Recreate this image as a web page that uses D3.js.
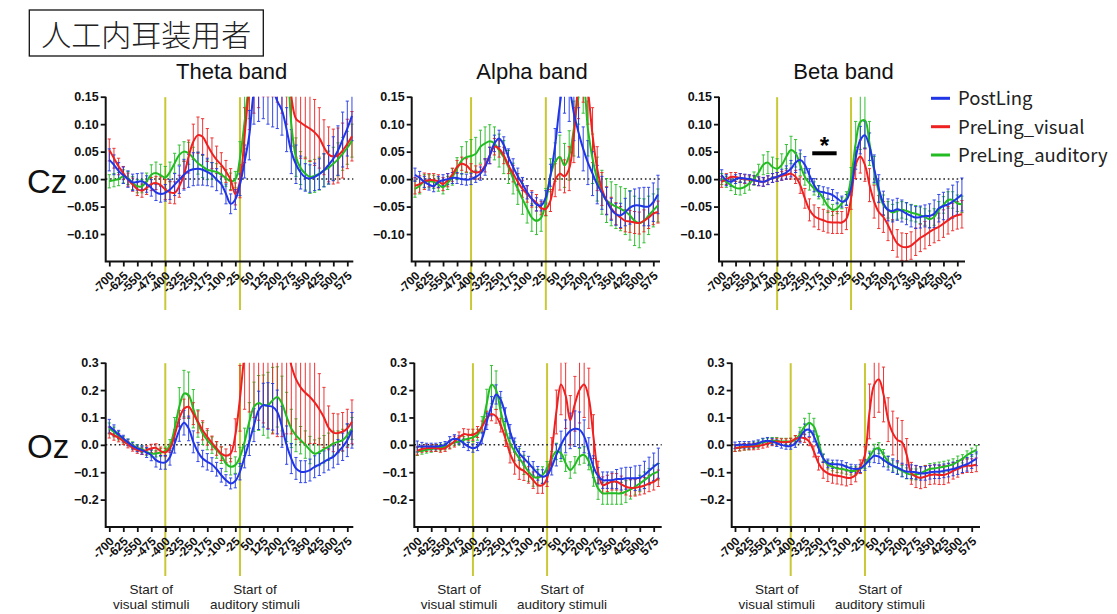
<!DOCTYPE html>
<html><head><meta charset="utf-8">
<script src="https://cdn.jsdelivr.net/npm/d3@7"></script>
<style>body{margin:0;background:#fff}svg{display:block}</style>
</head><body>
<svg id="c" width="1117" height="614"></svg>
<script>
// ---------- data ----------
const times = [-700,-675,-650,-625,-600,-575,-550,-525,-500,-475,-450,-425,-400,-375,-350,-325,-300,-275,-250,-225,-200,-175,-150,-125,-100,-75,-50,-25,0,25,50,75,100,125,150,175,200,225,250,275,300,325,350,375,400,425,450,475,500,525,550,575,600];
const xTickLabels = [-700,-625,-550,-475,-400,-325,-250,-175,-100,-25,50,125,200,275,350,425,500,575];
const czTicks = [-0.10,-0.05,0.00,0.05,0.10,0.15];
const ozTicks = [-0.2,-0.1,0.0,0.1,0.2,0.3];
const groups = ["PostLing","PreLing_visual","PreLing_auditory"];
const bands = ["Theta band","Alpha band","Beta band"];
const sites = ["Cz","Oz"];
const stimulusMarks = [-400, 0];

const czThetaPost = [0.035,0.026,0.015,0.007,0.0,-0.006,-0.005,-0.004,-0.009,-0.016,-0.024,-0.027,-0.025,-0.019,-0.01,-0.001,0.008,0.015,0.018,0.019,0.017,0.013,0.008,-0.001,-0.009,-0.027,-0.045,-0.037,-0.01,0.032,0.08,0.16,0.19,0.2,0.19,0.165,0.142,0.125,0.09,0.05,0.027,0.012,0.003,0.001,0.004,0.009,0.016,0.026,0.037,0.052,0.072,0.092,0.115];
const czThetaPostErr = [0.02,0.018,0.015,0.015,0.015,0.015,0.015,0.015,0.015,0.015,0.015,0.015,0.015,0.018,0.02,0.025,0.028,0.03,0.03,0.03,0.028,0.025,0.022,0.02,0.018,0.018,0.018,0.018,0.02,0.03,0.045,0.06,0.085,0.09,0.09,0.07,0.05,0.045,0.04,0.04,0.035,0.03,0.025,0.025,0.025,0.028,0.03,0.035,0.04,0.045,0.05,0.05,0.045];
const czThetaVis = [0.053,0.038,0.023,0.011,-0.001,-0.01,-0.018,-0.021,-0.016,-0.009,-0.007,-0.011,-0.019,-0.024,-0.025,-0.013,0.008,0.041,0.068,0.08,0.077,0.062,0.047,0.035,0.026,0.014,-0.001,-0.027,-0.004,0.08,0.17,0.24,0.28,0.3,0.3,0.3,0.29,0.27,0.22,0.15,0.11,0.103,0.097,0.092,0.085,0.075,0.058,0.045,0.041,0.043,0.052,0.064,0.078];
const czThetaVisErr = [0.02,0.018,0.015,0.012,0.012,0.012,0.012,0.012,0.012,0.012,0.012,0.015,0.018,0.02,0.02,0.02,0.025,0.03,0.032,0.033,0.033,0.03,0.028,0.025,0.022,0.02,0.02,0.02,0.03,0.05,0.08,0.12,0.15,0.15,0.15,0.15,0.15,0.15,0.12,0.09,0.07,0.065,0.06,0.06,0.06,0.055,0.05,0.05,0.05,0.05,0.05,0.045,0.045];
const czThetaAud = [-0.004,-0.002,0.0,0.005,0.002,-0.007,-0.013,-0.013,-0.004,0.008,0.011,0.007,0.003,0.013,0.029,0.044,0.05,0.047,0.038,0.029,0.023,0.017,0.015,0.013,0.008,0.002,-0.004,-0.001,0.038,0.105,0.18,0.24,0.27,0.28,0.28,0.28,0.27,0.25,0.22,0.1,0.04,0.02,0.01,0.004,0.006,0.01,0.016,0.021,0.028,0.036,0.046,0.057,0.07];
const czThetaAudErr = [0.012,0.012,0.012,0.012,0.012,0.012,0.012,0.012,0.015,0.018,0.02,0.02,0.02,0.018,0.018,0.018,0.018,0.02,0.02,0.02,0.02,0.018,0.015,0.015,0.015,0.015,0.015,0.015,0.03,0.05,0.07,0.08,0.08,0.08,0.08,0.08,0.08,0.08,0.07,0.05,0.035,0.03,0.03,0.03,0.03,0.03,0.03,0.03,0.03,0.03,0.03,0.03,0.03];

const czAlphaPost = [0.008,0.002,-0.005,-0.01,-0.013,-0.005,-0.002,0.0,0.002,0.002,0.0,-0.001,0.0,0.004,0.01,0.022,0.043,0.065,0.074,0.062,0.04,0.022,0.005,-0.009,-0.024,-0.036,-0.046,-0.048,-0.033,0.007,0.062,0.135,0.18,0.165,0.12,0.085,0.055,0.03,0.01,-0.01,-0.025,-0.04,-0.055,-0.064,-0.066,-0.06,-0.052,-0.048,-0.048,-0.05,-0.05,-0.042,-0.028];
const czAlphaPostErr = [0.012,0.012,0.01,0.01,0.01,0.01,0.01,0.01,0.01,0.01,0.01,0.01,0.01,0.01,0.012,0.015,0.015,0.015,0.015,0.015,0.015,0.015,0.015,0.012,0.012,0.012,0.012,0.01,0.012,0.02,0.03,0.05,0.06,0.06,0.05,0.045,0.04,0.04,0.04,0.035,0.03,0.025,0.02,0.02,0.022,0.025,0.03,0.03,0.032,0.035,0.035,0.035,0.035];
const czAlphaVis = [-0.012,-0.009,-0.004,-0.002,-0.002,-0.004,-0.009,-0.002,0.008,0.022,0.028,0.025,0.016,0.012,0.014,0.025,0.043,0.059,0.055,0.043,0.025,0.01,-0.005,-0.018,-0.027,-0.036,-0.043,-0.053,-0.054,-0.039,-0.002,0.01,0.005,0.019,0.08,0.17,0.2,0.16,0.08,0.019,-0.018,-0.039,-0.053,-0.063,-0.07,-0.076,-0.077,-0.079,-0.08,-0.076,-0.07,-0.063,-0.06];
const czAlphaVisErr = [0.015,0.015,0.015,0.012,0.012,0.012,0.012,0.012,0.012,0.012,0.012,0.012,0.012,0.012,0.012,0.012,0.015,0.015,0.015,0.015,0.015,0.015,0.015,0.015,0.015,0.015,0.015,0.012,0.012,0.02,0.03,0.03,0.03,0.04,0.05,0.06,0.06,0.06,0.05,0.04,0.03,0.025,0.02,0.02,0.02,0.02,0.02,0.02,0.02,0.02,0.02,0.02,0.02];
const czAlphaAud = [-0.018,-0.012,-0.004,-0.004,-0.005,-0.01,-0.015,-0.007,0.004,0.019,0.034,0.04,0.042,0.046,0.059,0.065,0.069,0.065,0.052,0.04,0.022,0.001,-0.018,-0.036,-0.054,-0.07,-0.076,-0.07,-0.042,0.007,0.031,0.04,0.025,0.043,0.092,0.15,0.17,0.092,0.037,0.0,-0.024,-0.039,-0.045,-0.05,-0.054,-0.059,-0.066,-0.076,-0.08,-0.076,-0.066,-0.057,-0.048];
const czAlphaAudErr = [0.015,0.015,0.012,0.012,0.012,0.012,0.012,0.012,0.015,0.02,0.025,0.028,0.03,0.03,0.03,0.03,0.03,0.03,0.03,0.03,0.03,0.028,0.028,0.028,0.026,0.025,0.025,0.025,0.025,0.03,0.035,0.04,0.04,0.045,0.05,0.05,0.05,0.05,0.045,0.04,0.04,0.04,0.04,0.04,0.04,0.042,0.045,0.045,0.045,0.04,0.035,0.03,0.03];

const czBetaPost = [0.007,-0.002,-0.005,0.0,0.002,0.001,0.0,-0.002,-0.004,-0.005,-0.002,0.002,0.004,0.008,0.012,0.019,0.03,0.035,0.026,0.007,-0.011,-0.022,-0.024,-0.026,-0.029,-0.035,-0.041,-0.038,-0.017,0.038,0.071,0.08,0.059,0.019,-0.017,-0.044,-0.056,-0.058,-0.055,-0.058,-0.063,-0.067,-0.07,-0.069,-0.067,-0.067,-0.063,-0.053,-0.049,-0.046,-0.041,-0.035,-0.028];
const czBetaPostErr = [0.01,0.01,0.008,0.008,0.008,0.008,0.008,0.008,0.008,0.008,0.008,0.008,0.008,0.01,0.012,0.015,0.018,0.018,0.015,0.012,0.012,0.01,0.01,0.01,0.01,0.01,0.01,0.01,0.012,0.02,0.025,0.025,0.025,0.025,0.025,0.022,0.02,0.02,0.02,0.02,0.02,0.02,0.02,0.02,0.02,0.022,0.025,0.025,0.025,0.028,0.03,0.03,0.03];
const czBetaVis = [-0.005,0.0,0.004,0.004,0.002,0.0,-0.001,-0.002,-0.004,-0.005,-0.002,0.002,0.004,0.006,0.008,0.01,0.004,-0.011,-0.035,-0.056,-0.067,-0.072,-0.075,-0.078,-0.079,-0.079,-0.079,-0.072,-0.035,0.026,0.041,0.026,-0.011,-0.041,-0.06,-0.069,-0.084,-0.102,-0.117,-0.123,-0.124,-0.121,-0.114,-0.107,-0.102,-0.096,-0.091,-0.087,-0.081,-0.075,-0.069,-0.066,-0.064];
const czBetaVisErr = [0.01,0.01,0.008,0.008,0.008,0.008,0.008,0.008,0.008,0.008,0.008,0.008,0.008,0.008,0.008,0.01,0.012,0.015,0.018,0.02,0.02,0.02,0.02,0.02,0.02,0.02,0.02,0.02,0.02,0.025,0.03,0.03,0.03,0.03,0.03,0.028,0.028,0.028,0.025,0.025,0.025,0.025,0.025,0.025,0.025,0.025,0.025,0.025,0.025,0.025,0.025,0.025,0.025];
const czBetaAud = [0.0,-0.005,-0.011,-0.016,-0.017,-0.014,-0.008,0.001,0.012,0.026,0.03,0.022,0.019,0.026,0.041,0.053,0.047,0.026,0.004,-0.008,-0.017,-0.024,-0.035,-0.049,-0.056,-0.053,-0.044,-0.035,0.001,0.065,0.104,0.107,0.065,0.016,-0.023,-0.047,-0.056,-0.061,-0.058,-0.056,-0.058,-0.061,-0.063,-0.066,-0.069,-0.073,-0.069,-0.056,-0.047,-0.038,-0.038,-0.044,-0.046];
const czBetaAudErr = [0.01,0.01,0.01,0.012,0.012,0.012,0.012,0.012,0.015,0.018,0.02,0.018,0.018,0.02,0.022,0.025,0.025,0.02,0.015,0.012,0.012,0.012,0.012,0.012,0.01,0.01,0.01,0.012,0.02,0.04,0.05,0.05,0.04,0.025,0.02,0.018,0.015,0.015,0.015,0.015,0.015,0.015,0.015,0.015,0.015,0.015,0.015,0.015,0.015,0.015,0.015,0.015,0.015];

const ozThetaPost = [0.068,0.053,0.038,0.023,0.009,-0.004,-0.013,-0.019,-0.028,-0.038,-0.056,-0.064,-0.064,-0.044,0.005,0.053,0.081,0.06,0.011,-0.026,-0.05,-0.062,-0.072,-0.089,-0.111,-0.129,-0.141,-0.132,-0.098,-0.044,0.011,0.072,0.126,0.145,0.142,0.139,0.12,0.066,-0.001,-0.05,-0.086,-0.098,-0.098,-0.092,-0.08,-0.072,-0.062,-0.052,-0.044,-0.026,-0.007,0.017,0.053];
const ozThetaPostErr = [0.025,0.02,0.015,0.012,0.012,0.012,0.012,0.015,0.018,0.02,0.025,0.025,0.025,0.03,0.035,0.04,0.045,0.045,0.04,0.035,0.03,0.03,0.025,0.025,0.025,0.02,0.02,0.025,0.03,0.04,0.05,0.06,0.07,0.08,0.085,0.085,0.08,0.075,0.07,0.055,0.04,0.04,0.04,0.04,0.04,0.04,0.04,0.04,0.04,0.045,0.05,0.06,0.065];
const ozThetaVis = [0.045,0.035,0.026,0.013,0.001,-0.011,-0.019,-0.023,-0.019,-0.013,-0.011,-0.023,-0.028,-0.013,0.035,0.096,0.132,0.139,0.114,0.084,0.053,0.029,0.007,-0.013,-0.032,-0.04,-0.032,0.035,0.17,0.33,0.42,0.45,0.47,0.48,0.48,0.46,0.43,0.4,0.36,0.29,0.24,0.21,0.19,0.175,0.155,0.13,0.1,0.062,0.045,0.043,0.048,0.06,0.084];
const ozThetaVisErr = [0.02,0.018,0.015,0.012,0.012,0.012,0.012,0.012,0.015,0.015,0.015,0.015,0.015,0.015,0.02,0.03,0.035,0.04,0.04,0.04,0.035,0.03,0.025,0.025,0.025,0.025,0.03,0.06,0.12,0.2,0.3,0.35,0.38,0.4,0.42,0.42,0.4,0.37,0.32,0.25,0.22,0.2,0.19,0.17,0.15,0.13,0.11,0.08,0.07,0.07,0.07,0.07,0.08];
const ozThetaAud = [0.06,0.047,0.033,0.019,0.009,-0.001,-0.011,-0.016,-0.026,-0.032,-0.032,-0.028,-0.023,-0.001,0.06,0.139,0.187,0.181,0.132,0.078,0.041,0.017,-0.001,-0.019,-0.038,-0.068,-0.08,-0.074,-0.044,0.011,0.084,0.139,0.153,0.145,0.145,0.163,0.175,0.151,0.102,0.06,0.035,0.017,0.001,-0.019,-0.032,-0.026,-0.016,-0.007,0.005,0.011,0.017,0.035,0.06];
const ozThetaAudErr = [0.02,0.018,0.015,0.012,0.012,0.012,0.012,0.012,0.012,0.012,0.012,0.015,0.015,0.02,0.04,0.07,0.085,0.085,0.07,0.05,0.04,0.035,0.03,0.03,0.03,0.03,0.03,0.03,0.035,0.05,0.07,0.09,0.1,0.11,0.12,0.12,0.11,0.1,0.09,0.07,0.06,0.05,0.05,0.05,0.05,0.05,0.05,0.05,0.045,0.04,0.04,0.04,0.04];

const ozAlphaPost = [-0.006,-0.006,-0.006,-0.006,-0.006,-0.004,0.0,0.015,0.022,0.018,0.006,-0.006,-0.012,-0.006,0.024,0.086,0.141,0.184,0.165,0.11,0.049,0.0,-0.031,-0.049,-0.067,-0.086,-0.104,-0.116,-0.11,-0.08,-0.037,0.0,0.031,0.051,0.059,0.055,0.031,-0.024,-0.08,-0.113,-0.129,-0.129,-0.129,-0.125,-0.125,-0.122,-0.122,-0.122,-0.12,-0.11,-0.095,-0.08,-0.067];
const ozAlphaPostErr = [0.02,0.015,0.012,0.012,0.012,0.012,0.012,0.015,0.015,0.015,0.015,0.015,0.015,0.015,0.02,0.03,0.035,0.035,0.03,0.025,0.025,0.025,0.025,0.025,0.025,0.025,0.025,0.025,0.025,0.03,0.04,0.05,0.06,0.065,0.065,0.065,0.06,0.05,0.04,0.03,0.03,0.03,0.03,0.035,0.04,0.04,0.04,0.045,0.045,0.05,0.05,0.05,0.055];
const ozAlphaVis = [-0.022,-0.015,-0.012,-0.012,-0.012,-0.015,-0.012,0.0,0.012,0.027,0.039,0.037,0.037,0.047,0.067,0.098,0.113,0.104,0.072,0.024,-0.031,-0.067,-0.086,-0.095,-0.11,-0.129,-0.147,-0.147,-0.122,-0.024,0.12,0.22,0.18,0.09,0.15,0.2,0.22,0.17,0.03,-0.1,-0.147,-0.141,-0.135,-0.135,-0.144,-0.153,-0.157,-0.157,-0.153,-0.149,-0.141,-0.135,-0.122];
const ozAlphaVisErr = [0.015,0.012,0.012,0.012,0.012,0.012,0.012,0.015,0.02,0.02,0.02,0.02,0.02,0.02,0.02,0.025,0.025,0.025,0.025,0.03,0.035,0.04,0.04,0.035,0.03,0.03,0.03,0.03,0.03,0.05,0.08,0.11,0.12,0.09,0.1,0.12,0.12,0.11,0.08,0.04,0.03,0.03,0.03,0.03,0.03,0.03,0.03,0.03,0.03,0.03,0.03,0.03,0.03];
const ozAlphaAud = [-0.024,-0.022,-0.018,-0.015,-0.012,-0.01,-0.006,0.0,0.009,0.012,0.018,0.022,0.027,0.037,0.073,0.153,0.22,0.2,0.122,0.055,0.006,-0.024,-0.049,-0.073,-0.098,-0.116,-0.12,-0.11,-0.086,-0.049,-0.024,-0.031,-0.067,-0.092,-0.073,-0.043,-0.037,-0.061,-0.116,-0.159,-0.177,-0.177,-0.177,-0.177,-0.177,-0.171,-0.163,-0.153,-0.141,-0.129,-0.116,-0.104,-0.098];
const ozAlphaAudErr = [0.015,0.012,0.012,0.012,0.012,0.012,0.012,0.012,0.012,0.012,0.012,0.012,0.015,0.02,0.03,0.05,0.07,0.07,0.05,0.04,0.035,0.035,0.035,0.035,0.035,0.035,0.03,0.03,0.025,0.025,0.03,0.03,0.03,0.03,0.03,0.03,0.03,0.03,0.035,0.04,0.04,0.04,0.04,0.04,0.04,0.04,0.035,0.03,0.03,0.03,0.03,0.03,0.03];

const ozBetaPost = [-0.002,0.0,0.0,0.0,0.002,0.006,0.012,0.015,0.012,0.006,0.0,-0.004,-0.004,0.006,0.027,0.051,0.055,0.031,-0.012,-0.049,-0.067,-0.071,-0.071,-0.073,-0.08,-0.086,-0.088,-0.086,-0.073,-0.055,-0.04,-0.043,-0.055,-0.067,-0.076,-0.083,-0.092,-0.098,-0.098,-0.1,-0.104,-0.104,-0.1,-0.098,-0.098,-0.095,-0.092,-0.088,-0.083,-0.076,-0.071,-0.061,-0.051];
const ozBetaPostErr = [0.012,0.012,0.012,0.012,0.012,0.012,0.012,0.012,0.012,0.012,0.012,0.012,0.012,0.015,0.02,0.025,0.025,0.02,0.018,0.015,0.015,0.015,0.015,0.015,0.015,0.015,0.015,0.015,0.02,0.025,0.025,0.025,0.025,0.025,0.025,0.025,0.025,0.025,0.025,0.025,0.025,0.025,0.025,0.025,0.025,0.025,0.025,0.025,0.025,0.025,0.025,0.025,0.025];
const ozBetaVis = [-0.012,-0.01,-0.007,-0.006,-0.006,-0.004,0.0,0.004,0.009,0.012,0.01,0.01,0.012,0.022,0.027,0.024,0.012,-0.024,-0.067,-0.092,-0.104,-0.11,-0.113,-0.116,-0.12,-0.12,-0.11,-0.08,-0.037,0.122,0.22,0.239,0.184,0.092,0.043,0.018,0.009,-0.037,-0.104,-0.116,-0.12,-0.116,-0.11,-0.108,-0.11,-0.11,-0.104,-0.095,-0.088,-0.08,-0.076,-0.076,-0.073];
const ozBetaVisErr = [0.012,0.012,0.012,0.012,0.012,0.012,0.012,0.012,0.012,0.012,0.012,0.012,0.012,0.012,0.015,0.015,0.015,0.02,0.025,0.03,0.03,0.03,0.03,0.03,0.03,0.025,0.025,0.025,0.03,0.1,0.12,0.12,0.1,0.08,0.08,0.08,0.08,0.06,0.04,0.04,0.04,0.04,0.035,0.035,0.035,0.035,0.035,0.03,0.03,0.025,0.025,0.025,0.025];
const ozBetaAud = [-0.012,-0.01,-0.007,-0.006,-0.002,0.002,0.01,0.012,0.015,0.015,0.012,0.012,0.012,0.018,0.039,0.067,0.08,0.067,0.012,-0.049,-0.073,-0.08,-0.086,-0.088,-0.092,-0.095,-0.095,-0.088,-0.071,-0.043,-0.018,-0.012,-0.037,-0.061,-0.076,-0.086,-0.095,-0.104,-0.108,-0.108,-0.104,-0.095,-0.088,-0.086,-0.083,-0.08,-0.076,-0.071,-0.061,-0.051,-0.037,-0.027,-0.018];
const ozBetaAudErr = [0.012,0.012,0.012,0.012,0.012,0.012,0.012,0.012,0.012,0.012,0.012,0.012,0.012,0.015,0.025,0.03,0.035,0.03,0.02,0.015,0.015,0.015,0.015,0.015,0.015,0.015,0.015,0.015,0.015,0.02,0.02,0.02,0.02,0.02,0.02,0.02,0.02,0.02,0.02,0.02,0.02,0.02,0.02,0.02,0.02,0.02,0.02,0.02,0.02,0.015,0.015,0.015,0.015];

const sigTimes = [-210, -78];   // significance bar (Cz, Beta)
const sigLevel = 0.047;

// ---------- assemble ----------
const panelData = [
  [ [[czThetaPost,czThetaPostErr],[czThetaVis,czThetaVisErr],[czThetaAud,czThetaAudErr]],
    [[czAlphaPost,czAlphaPostErr],[czAlphaVis,czAlphaVisErr],[czAlphaAud,czAlphaAudErr]],
    [[czBetaPost,czBetaPostErr],[czBetaVis,czBetaVisErr],[czBetaAud,czBetaAudErr]] ],
  [ [[ozThetaPost,ozThetaPostErr],[ozThetaVis,ozThetaVisErr],[ozThetaAud,ozThetaAudErr]],
    [[ozAlphaPost,ozAlphaPostErr],[ozAlphaVis,ozAlphaVisErr],[ozAlphaAud,ozAlphaAudErr]],
    [[ozBetaPost,ozBetaPostErr],[ozBetaVis,ozBetaVisErr],[ozBetaAud,ozBetaAudErr]] ]
];

// ---------- layout ----------
const colors = ["#1f35e6","#ee2020","#22bb22"];
const rowsCfg = [
  {yt:96.7, yb:261.5, dom:[-0.15,0.15], ticks:czTicks, fmt:d3.format(".2f"), ylineBottom:310},
  {yt:362.7, yb:527, dom:[-0.3,0.3], ticks:ozTicks, fmt:d3.format(".1f"), ylineBottom:576}
];
const colsCfg = [
  [ {ax:105.7,x0:109.3,x1:347.3,xe:353.3}, {ax:411.7,x0:415,x1:653.3,xe:660}, {ax:719,x0:721.7,x1:957.3,xe:965} ],
  [ {ax:105.7,x0:109.3,x1:347.3,xe:353.3}, {ax:414.3,x0:417.3,x1:653.7,xe:661.7}, {ax:731.7,x0:735,x1:971.7,xe:980} ]
];
const FONT = "'Liberation Sans', Arial, sans-serif";
const JFONT = "'Noto Sans CJK JP', sans-serif";

const svg = d3.select("#c");
const defs = svg.append("defs");

// title box
svg.append("rect").attr("x",29.3).attr("y",10).attr("width",234).attr("height",46)
  .attr("fill","none").attr("stroke","#111").attr("stroke-width",1.3);
svg.append("text").attr("x",146.3).attr("y",45.5).attr("text-anchor","middle")
  .attr("font-family",JFONT).attr("font-weight",300).attr("font-size",30).attr("fill","#222").text("人工内耳装用者");

// band titles
const titleX = [231.7, 532, 843.5];
bands.forEach((b,i)=>{
  svg.append("text").attr("x",titleX[i]).attr("y",78.5).attr("text-anchor","middle")
    .attr("font-family",FONT).attr("font-size",22).attr("fill","#111").text(b);
});
// site labels
const siteY = [193, 458];
sites.forEach((s,i)=>{
  svg.append("text").attr("x",27).attr("y",siteY[i]).attr("font-family",FONT)
    .attr("font-size",33).attr("fill","#111").text(s);
});

const line = d3.line().curve(d3.curveCatmullRom.alpha(0.5));

panelData.forEach((rowData, r)=>{
  const rc = rowsCfg[r];
  rowData.forEach((series, c)=>{
    const cc = colsCfg[r][c];
    const x = d3.scaleLinear().domain([-700,575]).range([cc.x0, cc.x1]);
    const y = d3.scaleLinear().domain(rc.dom).range([rc.yb, rc.yt]);
    const g = svg.append("g");
    const cid = `clip${r}${c}`;
    defs.append("clipPath").attr("id",cid).append("rect")
      .attr("x",cc.ax).attr("y",rc.yt).attr("width",cc.xe-cc.ax+2).attr("height",rc.yb-rc.yt);

    // stimulus lines
    stimulusMarks.forEach(t=>{
      g.append("line").attr("x1",x(t)).attr("x2",x(t)).attr("y1",rc.yt+0.5).attr("y2",rc.ylineBottom)
        .attr("stroke","#c9c836").attr("stroke-width",2);
    });
    // zero dotted line
    g.append("line").attr("x1",cc.ax).attr("x2",cc.xe).attr("y1",y(0)).attr("y2",y(0))
      .attr("stroke","#222").attr("stroke-width",1.5).attr("stroke-dasharray","1.6,2.8");

    const plot = g.append("g").attr("clip-path",`url(#${cid})`);
    [2,1,0].forEach(si=>{
      const [mean, err] = series[si];
      const pts = times.map((t,i)=>({t, m:mean[i], e:err[i]}));
      const eb = plot.append("g").attr("stroke",colors[si]).attr("stroke-width",1).attr("opacity",0.9);
      pts.forEach(p=>{
        const px = x(p.t), y1 = y(p.m+p.e), y2 = y(p.m-p.e);
        eb.append("line").attr("x1",px).attr("x2",px).attr("y1",y1).attr("y2",y2);
        eb.append("line").attr("x1",px-1.6).attr("x2",px+1.6).attr("y1",y1).attr("y2",y1);
        eb.append("line").attr("x1",px-1.6).attr("x2",px+1.6).attr("y1",y2).attr("y2",y2);
      });
    });
    [2,1,0].forEach(si=>{
      const [mean] = series[si];
      plot.append("path").attr("d", line(times.map((t,i)=>[x(t), y(mean[i])])))
        .attr("fill","none").attr("stroke",colors[si]).attr("stroke-width",2);
    });

    // axes
    const yAxis = d3.axisLeft(y).tickValues(rc.ticks).tickSize(5).tickPadding(2).tickFormat(rc.fmt);
    const ya = g.append("g").attr("transform",`translate(${cc.ax},0)`).call(yAxis);
    ya.select(".domain").remove();
    ya.selectAll(".tick line").attr("stroke","#111").attr("stroke-width",1.8);
    ya.selectAll("text").attr("font-family",FONT).attr("font-weight","bold").attr("font-size",12.5).attr("fill","#111");

    const xAxis = d3.axisBottom(x).tickValues(xTickLabels).tickSize(5).tickFormat(d=>String(d));
    const xa = g.append("g").attr("transform",`translate(0,${rc.yb})`).call(xAxis);
    xa.select(".domain").remove();
    xa.selectAll(".tick line").attr("stroke","#111").attr("stroke-width",1.8);
    xa.selectAll("text").attr("x",0).attr("y",0).attr("dy",0).attr("text-anchor","end")
      .attr("transform","translate(5,15) rotate(-45)")
      .attr("font-family",FONT).attr("font-weight","bold").attr("font-size",12).attr("fill","#111");

    g.append("path").attr("d",`M${cc.ax},${rc.yt}V${rc.yb}H${cc.xe}`)
      .attr("fill","none").attr("stroke","#111").attr("stroke-width",2);

    // significance marker
    if (r===0 && c===2) {
      g.append("line").attr("x1",x(sigTimes[0])).attr("x2",x(sigTimes[1]))
        .attr("y1",y(sigLevel)).attr("y2",y(sigLevel)).attr("stroke","#000").attr("stroke-width",4);
      g.append("text").attr("x",(x(sigTimes[0])+x(sigTimes[1]))/2).attr("y",y(sigLevel)+1)
        .attr("text-anchor","middle").attr("font-family",FONT).attr("font-weight","bold")
        .attr("font-size",24).attr("fill","#000").text("*");
    }
    // stimulus annotations (Oz row)
    if (r===1) {
      const lab = [["Start of","visual stimuli", x(-400)-14],["Start of","auditory stimuli", x(0)+15]];
      lab.forEach(([a,b,cx])=>{
        g.append("text").attr("x",cx).attr("y",594).attr("text-anchor","middle")
          .attr("font-family",FONT).attr("font-size",13.5).attr("fill","#222").text(a);
        g.append("text").attr("x",cx).attr("y",609).attr("text-anchor","middle")
          .attr("font-family",FONT).attr("font-size",13.5).attr("fill","#222").text(b);
      });
    }
  });
});

// legend
const legY = [98.3, 126.7, 155];
groups.forEach((gname,i)=>{
  svg.append("line").attr("x1",931).attr("x2",950).attr("y1",legY[i]).attr("y2",legY[i])
    .attr("stroke",colors[i]).attr("stroke-width",3);
  svg.append("text").attr("x",958).attr("y",legY[i]+7).attr("font-family",JFONT)
    .attr("font-size",18.5).attr("fill","#222").text(gname);
});
</script>
</body></html>
